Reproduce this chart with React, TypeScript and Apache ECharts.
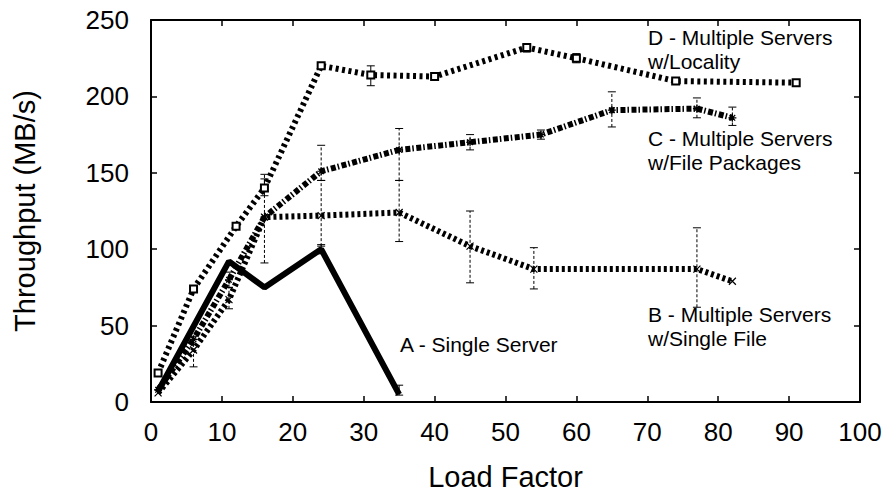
import React, { useEffect, useRef } from "react";
import * as echarts from "echarts";

// ---- data ----
const xTicks = [0, 100, 10]; // min, max, interval
const yTicks = [0, 250, 50];

const aX = [1, 11, 16, 24, 35];
const aY = [7, 92, 75, 100, 5];
const aErr = [
  [24, 97, 103],
  [35, 4.5, 11],
];

const bX = [1, 6, 11, 16, 24, 35, 45, 54, 77, 82];
const bY = [6, 34, 67, 121, 122, 124, 102, 87, 87, 79];
const bErr = [
  [6, 23, 43],
  [11, 61, 75],
  [16, 91, 149],
  [24, 102, 145],
  [35, 105, 145],
  [45, 78, 125],
  [54, 74, 101],
  [77, 62, 114],
];

const cX = [1, 6, 11, 16, 24, 35, 45, 55, 65, 77, 82];
const cY = [8, 41, 80, 121, 151, 165, 170, 175, 191, 192, 186];
const cErr = [
  [11, 75, 85],
  [24, 145, 168],
  [35, 145, 179],
  [45, 165, 175],
  [55, 172, 178],
  [65, 180, 203],
  [77, 186, 199],
  [82, 181, 193],
];

const dX = [1, 6, 12, 16, 24, 31, 40, 53, 60, 74, 91];
const dY = [19, 74, 115, 140, 220, 214, 213, 232, 225, 210, 209];
const dErr = [
  [16, 135, 146],
  [31, 207, 220],
  [53, 229, 234],
  [60, 222, 228],
];

const labels = [
  { text: "D - Multiple Servers\nw/Locality", x: 648, y: 37 },
  { text: "C - Multiple Servers\nw/File Packages", x: 648, y: 138 },
  { text: "B - Multiple Servers\nw/Single File", x: 648, y: 314 },
  { text: "A - Single Server", x: 400, y: 344 },
];

const FONT = "'Liberation Sans', Arial, Helvetica, sans-serif";
const LINE_H = 24;

const zip = (xs: number[], ys: number[]) => xs.map((x, i) => [x, ys[i]]);

function errSeries(data: number[][], dashed: boolean) {
  return {
    type: "custom",
    xAxisIndex: 0,
    yAxisIndex: 0,
    z: 1,
    silent: true,
    data,
    renderItem: (params: any, api: any) => {
      const x = api.value(0);
      const lo = api.coord([x, api.value(1)]);
      const hi = api.coord([x, api.value(2)]);
      const w = 4;
      const style = {
        stroke: "#000",
        lineWidth: 1,
        lineDash: dashed ? [3, 2] : null,
      };
      return {
        type: "group",
        children: [
          { type: "line", shape: { x1: lo[0], y1: lo[1], x2: hi[0], y2: hi[1] }, style },
          { type: "line", shape: { x1: lo[0] - w, y1: lo[1], x2: lo[0] + w, y2: lo[1] }, style: { stroke: "#000", lineWidth: 1 } },
          { type: "line", shape: { x1: hi[0] - w, y1: hi[1], x2: hi[0] + w, y2: hi[1] }, style: { stroke: "#000", lineWidth: 1 } },
        ],
      };
    },
  };
}

function lineSeries(name: string, data: number[][], type: any, width: number, symbol: string, size: number) {
  return {
    name,
    type: "line",
    data,
    z: 3,
    symbol,
    symbolSize: size,
    showSymbol: true,
    lineStyle: { color: "#000", width, type, cap: "butt" },
    itemStyle: { color: "#000", borderColor: "#000", borderWidth: 1.2 },
  };
}

export default function App() {
  const ref = useRef<HTMLDivElement>(null);
  useEffect(() => {
    if (!ref.current) return;
    const chart = echarts.init(ref.current, null, { renderer: "svg" });
    const axisCommon = {
      type: "value",
      splitLine: { show: false },
      axisLine: { show: true, onZero: false, lineStyle: { color: "#000", width: 2 } },
      axisTick: { show: true, inside: true, length: 6, lineStyle: { color: "#000", width: 1.5 } },
    };
    const text: any[] = labels.map((l) => ({
      type: "text",
      x: l.x,
      y: l.y - LINE_H / 2,
      z: 10,
      style: {
        text: l.text,
        fill: "#000",
        font: `21px ${FONT}`,
        lineHeight: LINE_H,
        textVerticalAlign: "top",
        textAlign: "left",
      },
    }));
    chart.setOption({
      animation: false,
      backgroundColor: "#fff",
      grid: { left: 151, right: 31, top: 20, bottom: 93 },
      xAxis: [
        {
          ...axisCommon,
          position: "bottom",
          min: xTicks[0],
          max: xTicks[1],
          interval: xTicks[2],
          axisLabel: { color: "#000", fontSize: 26, fontFamily: FONT, margin: 17 },
          name: "Load Factor",
          nameLocation: "middle",
          nameGap: 60,
          nameTextStyle: { color: "#000", fontSize: 29, fontFamily: FONT },
        },
        {
          ...axisCommon,
          position: "top",
          min: xTicks[0],
          max: xTicks[1],
          interval: xTicks[2],
          axisLabel: { show: false },
        },
      ],
      yAxis: [
        {
          ...axisCommon,
          position: "left",
          min: yTicks[0],
          max: yTicks[1],
          interval: yTicks[2],
          axisLabel: { color: "#000", fontSize: 26, fontFamily: FONT, margin: 22 },
          name: "Throughput (MB/s)",
          nameLocation: "middle",
          nameGap: 112,
          nameTextStyle: { color: "#000", fontSize: 29, fontFamily: FONT },
        },
        {
          ...axisCommon,
          position: "right",
          min: yTicks[0],
          max: yTicks[1],
          interval: yTicks[2],
          axisLabel: { show: false },
        },
      ],
      series: [
        errSeries(aErr, false),
        errSeries(bErr, true),
        errSeries(cErr, true),
        errSeries(dErr, false),
        lineSeries("A - Single Server", zip(aX, aY), "solid", 6, "none", 0),
        lineSeries("B - Multiple Servers w/Single File", zip(bX, bY), [3, 3], 6, "path://M0,0L10,10M10,0L0,10", 7),
        lineSeries("C - Multiple Servers w/File Packages", zip(cX, cY), [5, 2, 1.5, 2.5], 6, "path://M5,0L5,10M0,5L10,5M1.5,1.5L8.5,8.5M8.5,1.5L1.5,8.5", 8),
        lineSeries("D - Multiple Servers w/Locality", zip(dX, dY), [3, 3.5], 6, "emptyRect", 7),
      ],
      graphic: text,
    });
    return () => chart.dispose();
  }, []);
  return (
    <div
      ref={ref}
      style={{ position: "absolute", left: 0, top: 0, width: 891, height: 496 }}
    />
  );
}
